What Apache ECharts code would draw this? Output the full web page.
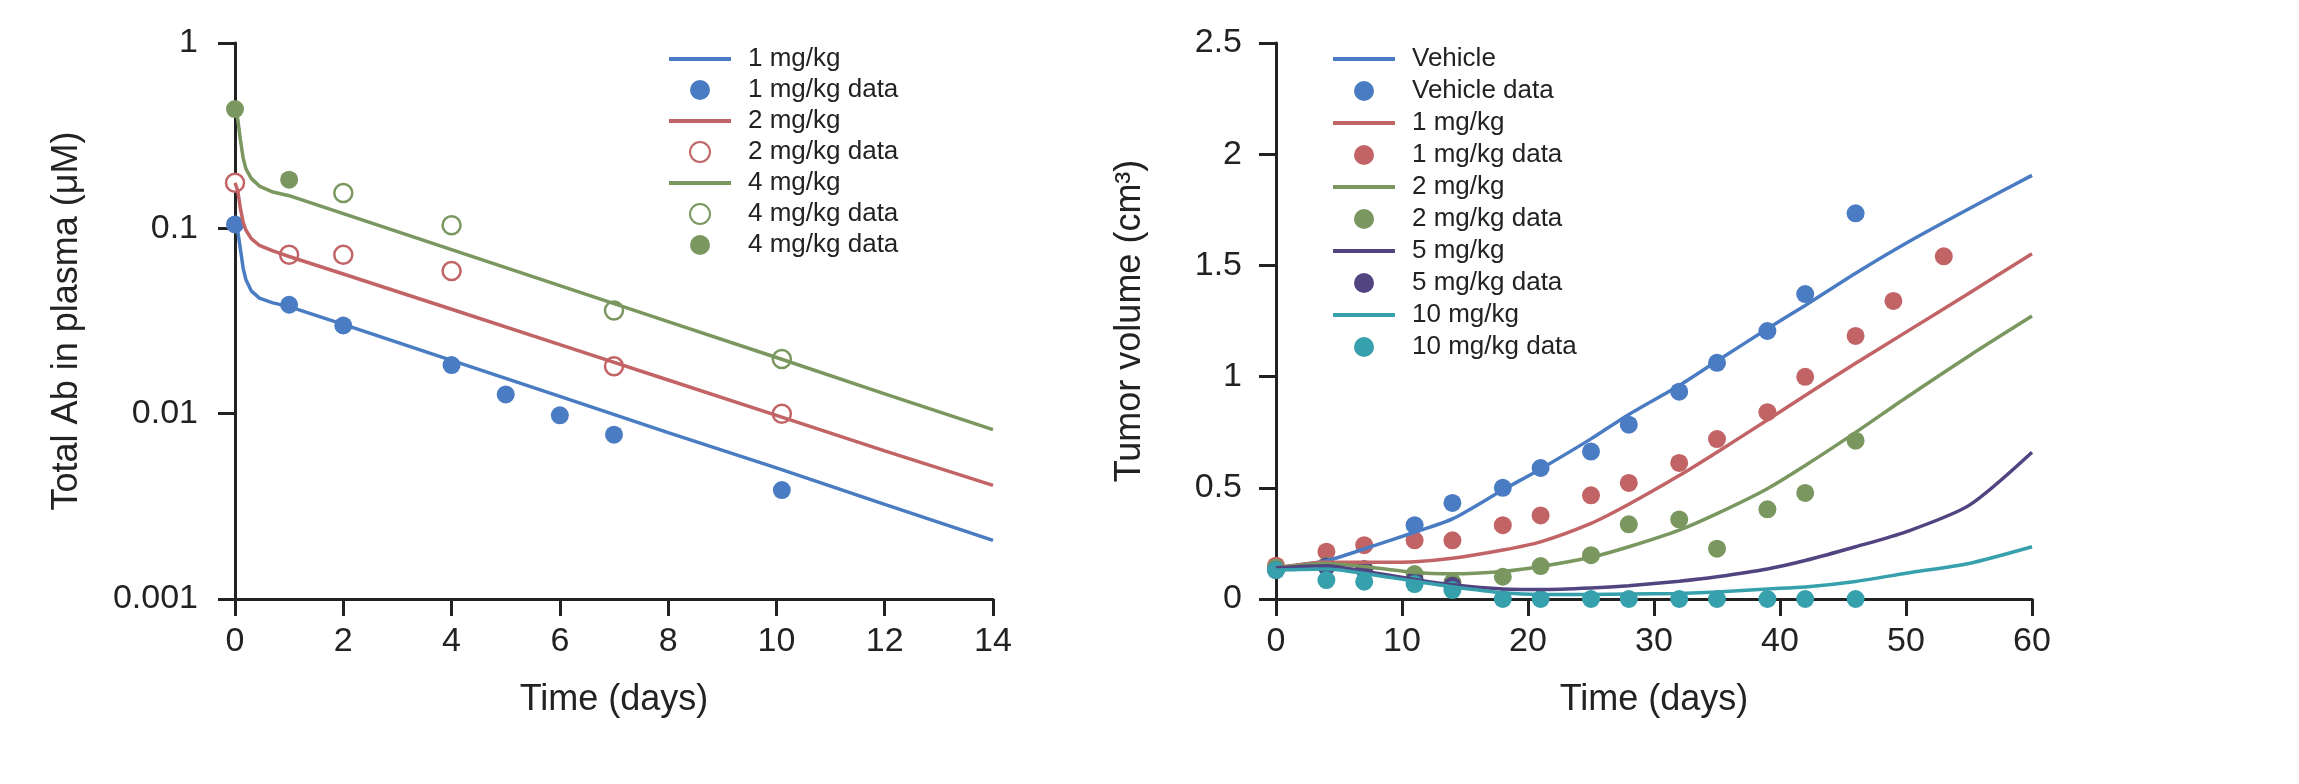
<!DOCTYPE html>
<html>
<head>
<meta charset="utf-8">
<title>Total Ab and tumor volume</title>
<script src="https://cdn.jsdelivr.net/npm/echarts@6/dist/echarts.min.js"></script>
<style>
  html, body { margin: 0; padding: 0; background: #fff; }
  #main_pk { position: absolute; left: 0; top: 0; width: 1080px; height: 784px; }
  #main_tumor { position: absolute; left: 1080px; top: 0; width: 1219px; height: 784px; }
</style>
</head>
<body>
<div id="main_pk"></div>
<div id="main_tumor"></div>
<script>
// ---- left panel: total Ab in plasma (uM), log scale ----
var pkFitDays = [0, 0.05, 0.1, 0.15, 0.2, 0.3, 0.45, 0.7, 1, 2, 4, 6, 8, 10, 12, 14];
var pkFit1 = [0.105, 0.097, 0.077, 0.061, 0.053, 0.046, 0.042, 0.0396, 0.0378, 0.0303, 0.0194, 0.0124, 0.0079, 0.0051, 0.00324, 0.00207];
var pkFit2 = [0.176, 0.16, 0.128, 0.108, 0.098, 0.088, 0.081, 0.0755, 0.0705, 0.0567, 0.0366, 0.0236, 0.0152, 0.0098, 0.0063, 0.0041];
var pkFit4 = [0.44, 0.39, 0.30, 0.24, 0.21, 0.186, 0.169, 0.157, 0.150, 0.120, 0.0767, 0.0491, 0.0314, 0.0201, 0.0128, 0.0082];

var pkDays1 = [0, 1, 2, 4, 5, 6, 7, 10.1];
var pkData1 = [0.105, 0.0387, 0.0299, 0.0183, 0.0127, 0.0098, 0.0077, 0.00387];
var pkDays2 = [0, 1, 2, 4, 7, 10.1];
var pkData2 = [0.176, 0.072, 0.072, 0.0589, 0.018, 0.010];
var pkDays4open = [2, 4, 7, 10.1];
var pkData4open = [0.155, 0.104, 0.036, 0.0197];
var pkDays4fill = [0, 1];
var pkData4fill = [0.44, 0.183];

// ---- right panel: tumor volume (cm3) ----
var tvFitDays = [0, 4, 7, 11, 14, 18, 21, 25, 28, 32, 35, 39, 42, 46, 50, 55, 60];
var tvFitVehicle = [0.14, 0.172, 0.225, 0.30, 0.36, 0.49, 0.585, 0.72, 0.83, 0.96, 1.07, 1.215, 1.32, 1.465, 1.60, 1.755, 1.905];
var tvFit1 = [0.14, 0.165, 0.165, 0.168, 0.183, 0.22, 0.257, 0.34, 0.426, 0.555, 0.66, 0.805, 0.915, 1.06, 1.20, 1.375, 1.552];
var tvFit2 = [0.14, 0.16, 0.146, 0.119, 0.113, 0.124, 0.146, 0.1875, 0.235, 0.31, 0.384, 0.496, 0.60, 0.749, 0.905, 1.093, 1.272];
var tvFit5 = [0.14, 0.15, 0.125, 0.088, 0.064, 0.045, 0.043, 0.05, 0.06, 0.08, 0.10, 0.135, 0.173, 0.235, 0.302, 0.421, 0.66];
var tvFit10 = [0.13, 0.135, 0.115, 0.08, 0.055, 0.028, 0.02, 0.02, 0.022, 0.025, 0.031, 0.045, 0.054, 0.079, 0.116, 0.16, 0.235];

var tvDaysVehicle = [0, 11, 14, 18, 21, 25, 28, 32, 35, 39, 42, 46];
var tvDataVehicle = [0.14, 0.332, 0.432, 0.50, 0.589, 0.663, 0.784, 0.932, 1.062, 1.205, 1.371, 1.734];
var tvDays1 = [0, 4, 7, 11, 14, 18, 21, 25, 28, 32, 35, 39, 42, 46, 49, 53];
var tvData1 = [0.15, 0.213, 0.242, 0.264, 0.264, 0.332, 0.376, 0.466, 0.522, 0.612, 0.719, 0.84, 0.999, 1.183, 1.34, 1.541];
var tvDays2 = [0, 4, 7, 11, 14, 18, 21, 25, 28, 32, 35, 39, 42, 46];
var tvData2 = [0.14, 0.15, 0.134, 0.112, 0.075, 0.10, 0.148, 0.197, 0.336, 0.358, 0.226, 0.403, 0.477, 0.712];
var tvDays5 = [0, 4, 7, 11, 14];
var tvData5 = [0.13, 0.146, 0.134, 0.085, 0.06];
var tvDays10 = [0, 4, 7, 11, 14, 18, 21, 25, 28, 32, 35, 39, 42, 46];
var tvData10 = [0.13, 0.085, 0.078, 0.067, 0.04, 0, 0, 0, 0, 0, 0, 0, 0, 0];

var BLUE = '#4a7cc4', RED = '#c26466', GREEN = '#7b9760', PURPLE = '#524480', TEAL = '#36a0ac';
var INK = '#222';
var FONT = '"Liberation Sans", Arial, Helvetica, sans-serif';

function zip(xs, ys) {
  var out = [];
  for (var i = 0; i < xs.length; i++) out.push([xs[i], ys[i]]);
  return out;
}

function axisBase() {
  return {
    axisLine: { show: true, lineStyle: { color: INK, width: 3 } },
    axisTick: { show: true, length: 17, lineStyle: { color: INK, width: 3 } },
    axisLabel: { color: INK, fontSize: 34, fontFamily: FONT },
    splitLine: { show: false },
    nameLocation: 'middle',
    nameTextStyle: { color: INK, fontSize: 36, fontFamily: FONT }
  };
}

function fitLine(name, color, xs, ys, smooth) {
  return {
    name: name, type: 'line', data: zip(xs, ys), symbol: 'none',
    smooth: smooth,
    lineStyle: { color: color, width: 3.5 }, itemStyle: { color: color }
  };
}

function dots(name, color, xs, ys, open) {
  return {
    name: name, type: 'scatter', data: zip(xs, ys), symbol: 'circle', symbolSize: 18,
    clip: false,
    itemStyle: open ? { color: '#fff', borderColor: color, borderWidth: 2.5, opacity: 1 }
                    : { color: color, borderWidth: 0, opacity: 1 }
  };
}

// line entries hide the little marker that ECharts puts on line legend icons
function legendBase(left, gap, lines, names) {
  var data = [];
  for (var i = 0; i < names.length; i++) {
    if (lines.indexOf(names[i]) >= 0) {
      data.push({ name: names[i], itemStyle: { opacity: 0 }, lineStyle: { width: 4 } });
    } else {
      data.push({ name: names[i] });
    }
  }
  return {
    orient: 'vertical', left: left, top: 41,
    itemWidth: 62, itemHeight: 20, itemGap: gap,
    selectedMode: false,
    lineStyle: { width: 4 },
    textStyle: { color: INK, fontSize: 26, fontFamily: FONT, lineHeight: 26, padding: [0, 0, 0, 12] },
    data: data
  };
}

var pkX = axisBase();
pkX.type = 'value'; pkX.min = 0; pkX.max = 14; pkX.interval = 2;
pkX.name = 'Time (days)'; pkX.nameGap = 83;
pkX.axisLabel.margin = 26;

var pkY = axisBase();
pkY.type = 'log'; pkY.logBase = 10; pkY.min = 0.001; pkY.max = 1;
pkY.name = 'Total Ab in plasma (μM)'; pkY.nameGap = 150; pkY.nameRotate = 90;
pkY.axisLabel.margin = 37;
pkY.axisLabel.formatter = function (v) { return String(Number(v.toPrecision(3))); };
pkY.minorTick = { show: false };

var pkChart = echarts.init(document.getElementById('main_pk'));
pkChart.setOption({
  animation: false,
  grid: { left: 235, top: 43, width: 758, height: 556, outerBoundsMode: 'none' },
  legend: legendBase(662, 5, ['1 mg/kg', '2 mg/kg', '4 mg/kg'],
    ['1 mg/kg', '1 mg/kg data', '2 mg/kg', '2 mg/kg data', '4 mg/kg', '4 mg/kg data', '4 mg/kg data ']),
  xAxis: pkX,
  yAxis: pkY,
  series: [
    fitLine('1 mg/kg', BLUE, pkFitDays, pkFit1, false),
    fitLine('2 mg/kg', RED, pkFitDays, pkFit2, false),
    fitLine('4 mg/kg', GREEN, pkFitDays, pkFit4, false),
    dots('1 mg/kg data', BLUE, pkDays1, pkData1, false),
    dots('2 mg/kg data', RED, pkDays2, pkData2, true),
    dots('4 mg/kg data', GREEN, pkDays4open, pkData4open, true),
    dots('4 mg/kg data ', GREEN, pkDays4fill, pkData4fill, false)
  ]
});

var tvX = axisBase();
tvX.type = 'value'; tvX.min = 0; tvX.max = 60; tvX.interval = 10;
tvX.name = 'Time (days)'; tvX.nameGap = 83;
tvX.axisLabel.margin = 26;

var tvY = axisBase();
tvY.type = 'value'; tvY.min = 0; tvY.max = 2.5; tvY.interval = 0.5;
tvY.name = 'Tumor volume (cm³)'; tvY.nameGap = 128; tvY.nameRotate = 90;
tvY.axisLabel.margin = 34;

var tvChart = echarts.init(document.getElementById('main_tumor'));
tvChart.setOption({
  animation: false,
  grid: { left: 196, top: 43, width: 756, height: 556, outerBoundsMode: 'none' },
  legend: legendBase(246, 6, ['Vehicle', '1 mg/kg', '2 mg/kg', '5 mg/kg', '10 mg/kg'],
    ['Vehicle', 'Vehicle data', '1 mg/kg', '1 mg/kg data', '2 mg/kg', '2 mg/kg data', '5 mg/kg', '5 mg/kg data', '10 mg/kg', '10 mg/kg data']),
  xAxis: tvX,
  yAxis: tvY,
  series: [
    fitLine('Vehicle', BLUE, tvFitDays, tvFitVehicle, 0.25),
    dots('Vehicle data', BLUE, tvDaysVehicle, tvDataVehicle, false),
    fitLine('1 mg/kg', RED, tvFitDays, tvFit1, 0.25),
    dots('1 mg/kg data', RED, tvDays1, tvData1, false),
    fitLine('2 mg/kg', GREEN, tvFitDays, tvFit2, 0.25),
    dots('2 mg/kg data', GREEN, tvDays2, tvData2, false),
    fitLine('5 mg/kg', PURPLE, tvFitDays, tvFit5, 0.25),
    dots('5 mg/kg data', PURPLE, tvDays5, tvData5, false),
    fitLine('10 mg/kg', TEAL, tvFitDays, tvFit10, 0.25),
    dots('10 mg/kg data', TEAL, tvDays10, tvData10, false)
  ]
});
</script>
</body>
</html>
